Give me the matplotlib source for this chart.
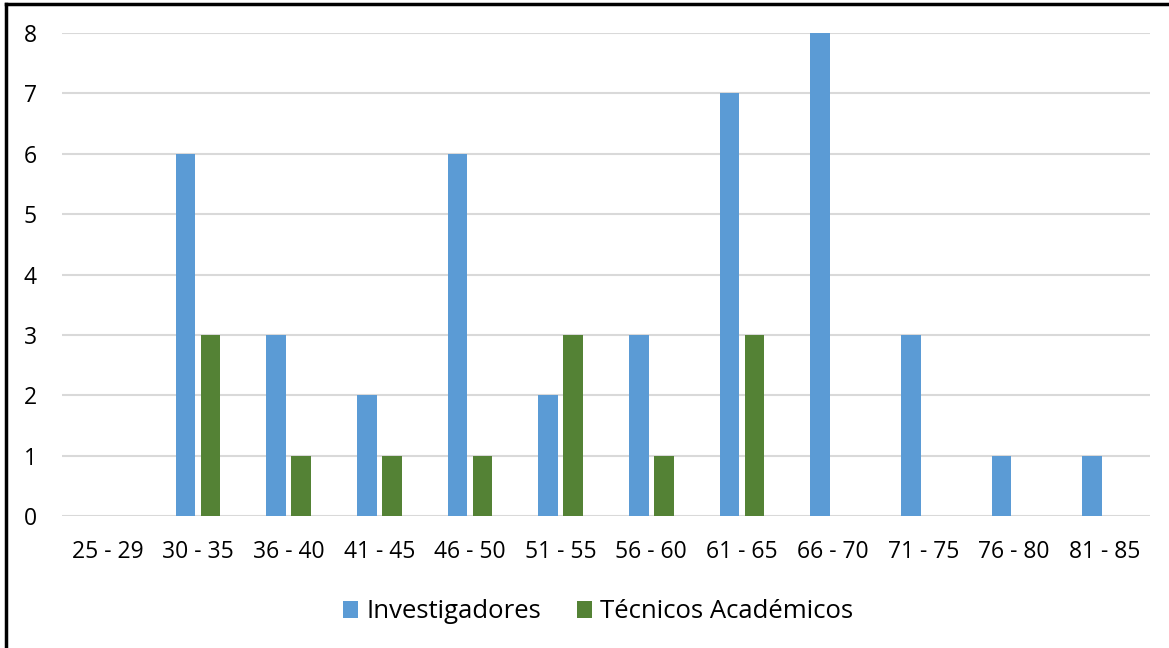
import matplotlib.pyplot as plt
import numpy as np
from matplotlib.lines import Line2D

# DATA
#=====================================================================
rangos = [ "25 - 29", "30 - 35", "36 - 40", "41 - 45", "46 - 50", "51 - 55",
           "56 - 60", "61 - 65", "66 - 70", "71 - 75", "76 - 80", "81 - 85" ]
investigadores = [ 0, 6, 3, 2, 6, 2, 3, 7, 8, 3, 1, 1 ]
tecnicos       = [ 0, 3, 1, 1, 1, 3, 1, 3, 0, 0, 0, 0 ]

plt.rcParams[ "font.family" ] = [ "Open Sans", "DejaVu Sans" ]

fig = plt.figure( figsize = ( 11.69, 6.48 ), dpi = 100 )
ax = fig.add_axes( [ 62 / 1169, 1 - 516 / 648, 1088 / 1169, 483 / 648 ] )

x = np.arange( len( rangos ) )
w = 0.22
ax.bar( x - 0.138, investigadores, w, color = "#5B9BD5", label = "Investigadores", zorder = 3 )
ax.bar( x + 0.138, tecnicos, w, color = "#548235", label = "Técnicos Académicos", zorder = 3 )

ax.set_xlim( -0.5, len( rangos ) - 0.5 )
ax.set_ylim( 0, 8 )
ax.set_yticks( range( 0, 9 ) )
ax.set_xticks( x )
ax.set_xticklabels( rangos )
ax.tick_params( axis = "both", length = 0, labelsize = 16.5, colors = "black" )
ax.tick_params( axis = "x", pad = 17 )
ax.tick_params( axis = "y", pad = 18 )
ax.grid( axis = "y", color = "#d9d9d9", linewidth = 1.5, zorder = 0 )
for s in ax.spines.values():
    s.set_visible( False )

ax.legend( loc = "upper center", bbox_to_anchor = ( 0.4926, -0.125 ), ncol = 2,
           frameon = False, fontsize = 18.5, handlelength = 0.6, handleheight = 0.6,
           handletextpad = 0.3, columnspacing = 1.4 )

# borde de la imagen (solo izquierda y arriba)
fig.add_artist( Line2D( [ 6 / 1169, 6 / 1169 ], [ 0, 1 - 4 / 648 ], color = "black", linewidth = 2.5 ) )
fig.add_artist( Line2D( [ 6 / 1169, 1 ], [ 1 - 4 / 648, 1 - 4 / 648 ], color = "black", linewidth = 2.5 ) )

plt.savefig( "out.png", dpi = 100 )
